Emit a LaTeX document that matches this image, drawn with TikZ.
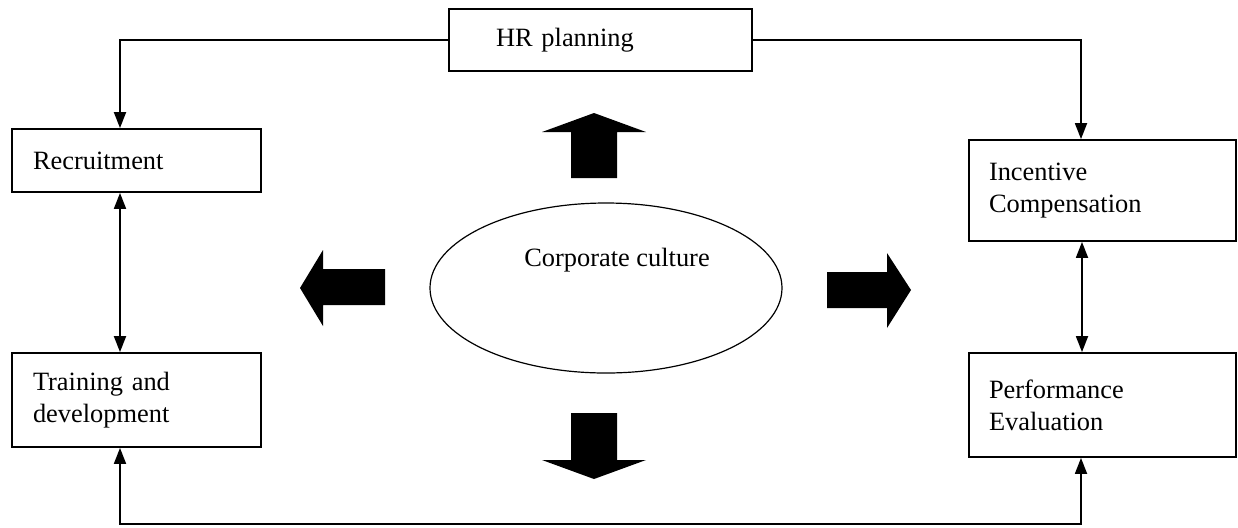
\documentclass[tikz,border=0pt]{standalone}
\usepackage{fontspec}
\setmainfont{Liberation Serif}
\usetikzlibrary{arrows, arrows.meta, shapes.geometric}

\newcommand{\boxfont}{\fontsize{13.2pt}{16pt}\selectfont}

\tikzset{
  box/.style={draw, line width=0.9pt, align=left, inner ysep=0pt, font=\boxfont},
  link/.style={line width=0.9pt, -{Triangle[length=8pt,width=6pt]}},
  twolink/.style={line width=0.9pt, {Triangle[length=8pt,width=6pt]}-{Triangle[length=8pt,width=6pt]}},
  culture/.style={draw, ellipse, line width=0.6pt, inner sep=0pt, minimum width=176pt, minimum height=85pt},
}

\begin{document}
\begin{tikzpicture}[x=0.5pt, y=-0.5pt]
\useasboundingbox (0,0) rectangle (1238,527);
%\draw[step=50,gray,very thin] (0,0) grid (1238,527); %background grid
%---------------------------------------------------
\node[box, inner xsep=23.5pt, text width=104.5pt, minimum height=31pt] (hr)   at (600.5,40)  {HR planning};
\node[box, inner xsep=10.5pt, text width=103.5pt, minimum height=31.5pt] (rec) at (136.5,160.5) {Recruitment};
\node[box, inner xsep=10.5pt, text width=103.5pt, minimum height=47pt] (trn)  at (136.5,400) {Training and\\development};
\node[box, inner xsep=10pt, text width=113.5pt, minimum height=50.5pt] (inc)  at (1102.5,190.5) {Incentive\\Compensation};
\node[box, inner xsep=10pt, text width=113.5pt, minimum height=52pt] (perf)   at (1102.5,405) {Performance\\Evaluation};
%---------------------------------------------------
\node[culture] (cc) at (606,288) {};
\node[font=\boxfont, anchor=base, inner sep=0pt] (cctext) at (617,266) {Corporate culture};
%---------------------------------------------------
\draw[link] (hr.west) -| ([xshift=-8.25pt]rec.north);
\draw[link] (hr.east) -| ([xshift=-10.75pt]inc.north);
\draw[twolink] ([xshift=-8.25pt]rec.south) -- ([xshift=-8.25pt]trn.north);
\draw[twolink] ([xshift=-10.25pt]inc.south) -- ([xshift=-10.25pt]perf.north);
\coordinate (base) at (600,524);
\draw[twolink] ([xshift=-10.75pt]perf.south) |- (base) -| ([xshift=-8.25pt]trn.south);
%---------------------------------------------------
\fill[black] (571,178) -- (571,132) -- (542,132) -- (594,113) -- (646,132) -- (617,132) -- (617,178) -- cycle;
\fill[black] (571,413) -- (571,460) -- (542,460) -- (594,479) -- (646,460) -- (617,460) -- (617,413) -- cycle;
\fill[black] (385,269) -- (323,269) -- (323,250) -- (300,288) -- (323,326) -- (323,305) -- (385,305) -- cycle;
\fill[black] (827,272) -- (887,272) -- (887,253) -- (911,290) -- (887,328) -- (887,308) -- (827,308) -- cycle;
\end{tikzpicture}
\end{document}
